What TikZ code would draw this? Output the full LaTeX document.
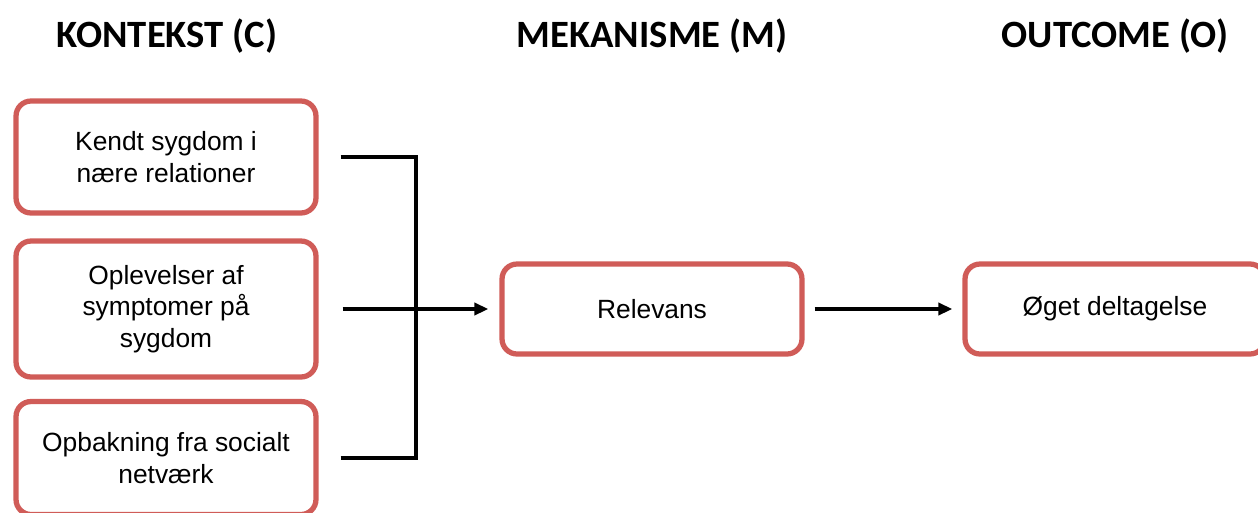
\documentclass[tikz,border=0pt]{standalone}
\usepackage{fontspec}
\setmainfont{Liberation Sans}
\newfontfamily\headfont{Carlito}
\usetikzlibrary{arrows.meta}

\definecolor{boxred}{RGB}{208,92,88}

\begin{document}
\begin{tikzpicture}[
        x=0.02cm, y=-0.02cm,
        box/.style={
            rectangle,
            draw=boxred,
            line width=3pt,
            rounded corners=0.3cm,
            minimum width=6cm,
            inner sep=0pt,
            align=center,
            font=\fontsize{15}{18}\selectfont
        },
        head/.style={
            anchor=base,
            font=\headfont\bfseries\fontsize{22}{26}\selectfont
        },
        line/.style={
            line width=2.1pt
        },
        arrow/.style={
            line width=2.1pt,
            -{Triangle[length=0.28cm,width=0.24cm]}
        }
    ]

    % (0,0) at upper left corner, one unit = one pixel
    \useasboundingbox (0,0) rectangle (1258,512);

    % headings (x, name, text)
    \foreach \x/\name/\txt in {167/hc/KONTEKST (C), 652/hm/MEKANISME (M), 1115/ho/OUTCOME (O)} {
        \node[head] (\name) at (\x,47) {\txt};
    }

    % --- context boxes ---
    \node[box, minimum height=2.24cm] (k1) at (166,157) {Kendt sygdom i\\nære relationer};
    \node[box, minimum height=2.72cm] (k2) at (166,309) {Oplevelser af\\symptomer på\\sygdom};
    \node[box, minimum height=2.26cm] (k3) at (166,458) {Opbakning fra socialt\\netværk};

    % --- mechanism and outcome ---
    \node[box, minimum height=1.8cm] (mek) at (652,309) {Relevans};
    \node[box, minimum height=1.8cm] (out) at (1115,309) {Øget deltagelse};

    % joining bracket
    \coordinate (join) at (416,309);
    \draw[line, shorten <=0.44cm] (k1.east) -| (join);
    \draw[line, shorten <=0.44cm] (k3.east) -| (join);

    % arrows
    \draw[arrow, shorten <=0.48cm, shorten >=0.22cm] (k2.east) -- (mek.west);
    \draw[arrow, shorten <=0.2cm, shorten >=0.2cm] (mek.east) -- (out.west);

\end{tikzpicture}
\end{document}
